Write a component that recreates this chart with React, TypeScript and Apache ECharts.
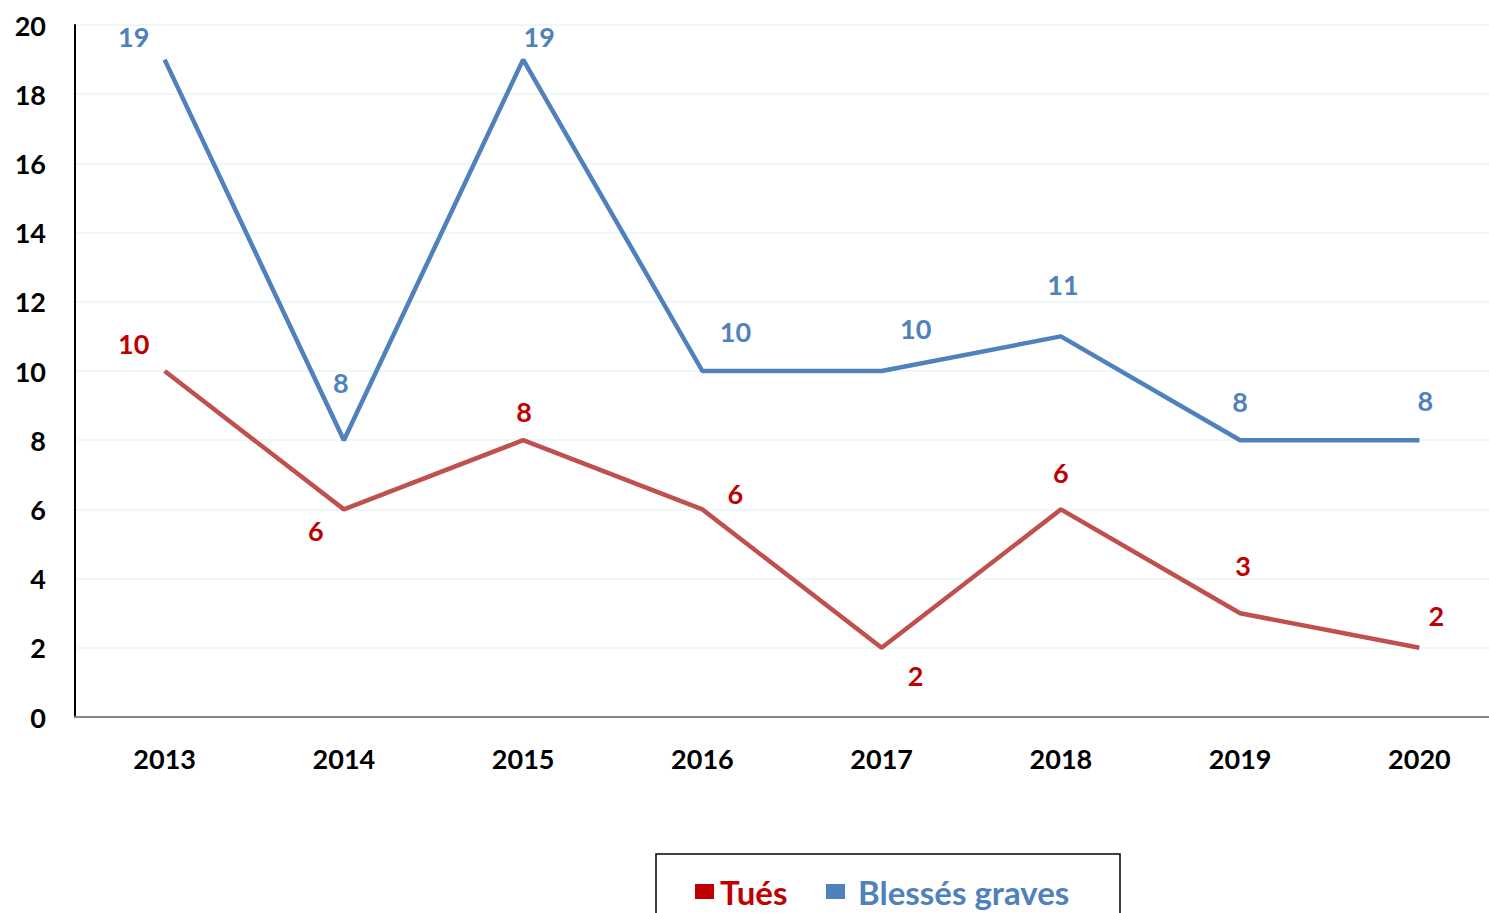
import React, { useEffect, useRef } from "react";
import * as echarts from "echarts";

const years = ["2013", "2014", "2015", "2016", "2017", "2018", "2019", "2020"];
const tues = [10, 6, 8, 6, 2, 6, 3, 2];
const blesses = [19, 8, 19, 10, 10, 11, 8, 8];

// label offsets [dx, dy] relative to the point (layout only)
const tuesOffsets = [[-31, -28], [-28, 21], [1, -29], [33, -16], [34, 28], [0, -37], [3, -48], [17, -32]];
const blessesOffsets = [[-31, -23], [-3, -58], [16, -23], [33, -40], [34, -43], [2, -52], [0, -39], [6, -40]];

const FONT = "Lato, 'Open Sans', sans-serif";

export default function App() {
  const ref = useRef<HTMLDivElement>(null);
  useEffect(() => {
    if (!ref.current) return;
    const chart = echarts.init(ref.current, undefined, { renderer: "svg" });
    const mk = (vals: number[], offs: number[][]) =>
      vals.map((v, i) => ({
        value: v,
        label: { offset: offs[i] },
      }));
    const lbl = (color: string) => ({
      show: true,
      position: "inside",
      color,
      fontSize: 27,
      fontWeight: "bold",
      fontFamily: FONT,
    });
    chart.setOption({
      animation: false,
      textStyle: { fontFamily: FONT },
      grid: { left: 75, right: 0, top: 25, bottom: 196 },
      legend: [
        {
          data: ["Tués"],
          left: 690,
          top: 870,
          icon: "rect",
          itemWidth: 19,
          itemHeight: 15,
          itemStyle: { color: "#c00000", opacity: 1 },
          textStyle: { fontSize: 33, fontWeight: "bold", fontFamily: FONT, color: "#c00000", padding: [0, 0, 0, 1] },
        },
        {
          data: ["Blessés graves"],
          left: 821,
          top: 870,
          icon: "rect",
          itemWidth: 19,
          itemHeight: 15,
          itemStyle: { color: "#4f81bd", opacity: 1 },
          textStyle: { fontSize: 33, fontWeight: "bold", fontFamily: FONT, color: "#4f81bd", padding: [0, 0, 0, 8] },
        },
      ],
      xAxis: {
        type: "category",
        data: years,
        boundaryGap: true,
        axisLine: { lineStyle: { color: "#868686", width: 2 } },
        axisTick: { show: false },
        axisLabel: { fontSize: 27, fontWeight: "bold", color: "#000", margin: 28, fontFamily: FONT },
      },
      yAxis: {
        type: "value",
        min: 0,
        max: 20,
        interval: 2,
        axisLine: { show: true, lineStyle: { color: "#000", width: 2 } },
        splitLine: { lineStyle: { color: "#eaf4f4", width: 1.5 } },
        axisLabel: { fontSize: 27, fontWeight: "bold", color: "#000", margin: 29, fontFamily: FONT },
      },
      graphic: [
        {
          type: "rect",
          shape: { x: 656, y: 854, width: 464, height: 80 },
          style: { fill: "none", stroke: "#000", lineWidth: 1.5 },
        },
      ],
      series: [
        {
          name: "Tués",
          type: "line",
          data: mk(tues, tuesOffsets),
          symbol: "circle",
          symbolSize: 0,
          showSymbol: true,
          itemStyle: { color: "#c00000" },
          lineStyle: { color: "#c0504d", width: 4.5 },
          label: lbl("#c00000"),
        },
        {
          name: "Blessés graves",
          type: "line",
          data: mk(blesses, blessesOffsets),
          symbol: "circle",
          symbolSize: 0,
          showSymbol: true,
          itemStyle: { color: "#4f81bd" },
          lineStyle: { color: "#4f81bd", width: 4.5 },
          label: lbl("#4f81bd"),
        },
      ],
    });
    return () => chart.dispose();
  }, []);
  return (
    <div
      ref={ref}
      style={{ position: "fixed", left: 0, top: 0, width: 1509, height: 913, background: "#fff" }}
    />
  );
}
